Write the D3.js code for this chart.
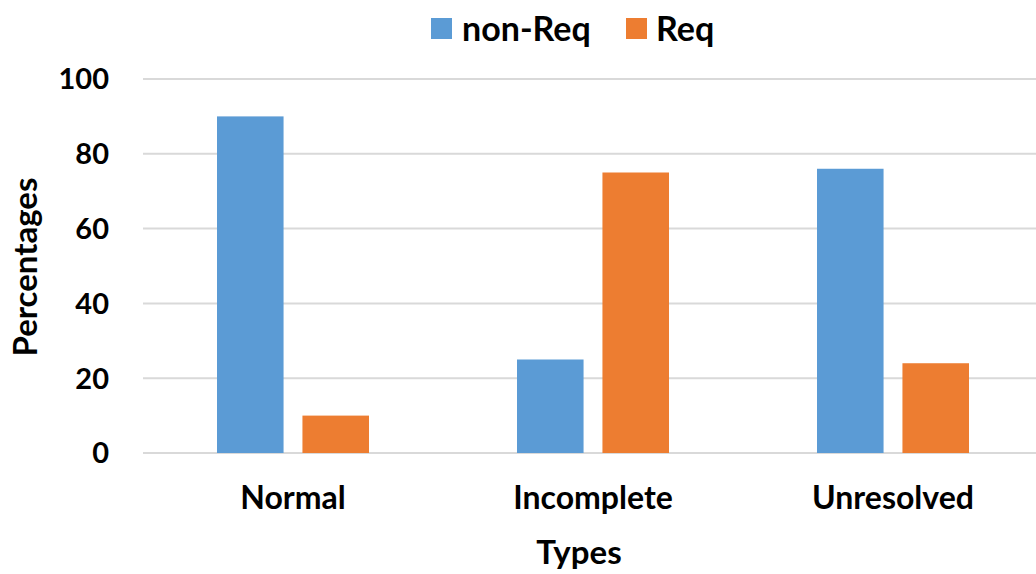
<!DOCTYPE html>
<html><head><meta charset="utf-8">
<script src="https://cdn.jsdelivr.net/npm/d3@7"></script>
<style>body{margin:0;background:#fff}svg{display:block}text{font-family:Lato,"Open Sans",sans-serif;font-weight:bold;fill:#000}</style>
</head><body><svg id="c" width="1036" height="574"></svg>
<script>
const categories = ["Normal", "Incomplete", "Unresolved"];
const seriesNames = ["non-Req", "Req"];
const nonReq = [90, 25, 76];
const req = [10, 75, 24];
const yTicks = [0, 20, 40, 60, 80, 100];
const colors = ["#5B9BD5", "#ED7D31"];

const svg = d3.select("#c");
const plotL = 143, plotR = 1043, plotT = 79, plotB = 453;
const x0 = d3.scaleBand().domain(categories).range([plotL, plotR]);
const x1 = d3.scaleBand().domain(seriesNames).range([74, 226]).paddingInner(0.221);
const y = d3.scaleLinear().domain([0, 100]).range([plotB, plotT]);

// grid
svg.append("g").selectAll("line").data(yTicks).join("line")
  .attr("x1", plotL).attr("x2", plotR)
  .attr("y1", d => y(d)).attr("y2", d => y(d))
  .attr("stroke", "#d9d9d9").attr("stroke-width", 2);

// y tick labels
svg.append("g").selectAll("text").data(yTicks).join("text")
  .attr("x", 109).attr("y", d => y(d)).attr("dy", "0.36em")
  .attr("text-anchor", "end").attr("font-size", 29).text(d => d);

const data = categories.map((c, i) => ({c, vals: [nonReq[i], req[i]]}));
const g = svg.append("g").selectAll("g").data(data).join("g")
  .attr("transform", d => `translate(${x0(d.c)},0)`);
g.selectAll("rect").data(d => d.vals.map((v, j) => ({s: seriesNames[j], v, j})))
  .join("rect")
  .attr("x", d => x1(d.s)).attr("width", x1.bandwidth())
  .attr("y", d => y(d.v)).attr("height", d => y(0) - y(d.v))
  .attr("fill", d => colors[d.j]);

// x labels
svg.append("g").selectAll("text").data(categories).join("text")
  .attr("x", d => x0(d) + x0.bandwidth() / 2).attr("y", 509)
  .attr("text-anchor", "middle").attr("font-size", 32).text(d => d);

svg.append("text").attr("x", 579).attr("y", 564).attr("text-anchor", "middle")
  .attr("font-size", 33).text("Types");
svg.append("text").attr("transform", "translate(37,267) rotate(-90)")
  .attr("text-anchor", "middle").attr("font-size", 33).text("Percentages");

// legend
const leg = [{n: seriesNames[0], c: colors[0], x: 431, tx: 462}, {n: seriesNames[1], c: colors[1], x: 626, tx: 656}];
const lg = svg.append("g").selectAll("g").data(leg).join("g");
lg.append("rect").attr("x", d => d.x).attr("y", 18).attr("width", 21).attr("height", 21).attr("fill", d => d.c);
lg.append("text").attr("x", d => d.tx).attr("y", 41).attr("font-size", 34).text(d => d.n);
</script></body></html>
